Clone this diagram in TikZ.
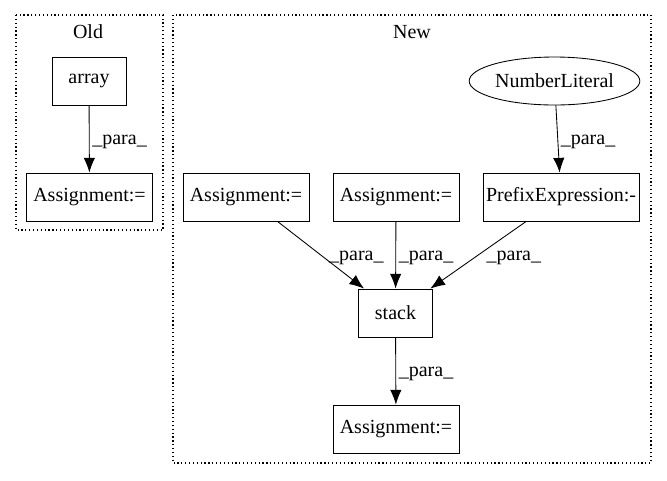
\documentclass[tikz,border=0pt]{standalone}
\usepackage{fontspec}
\setmainfont{Liberation Serif}
\usetikzlibrary{arrows.meta,shapes.geometric}
\tikzset{
  box/.style={draw, line width=.65pt, minimum height=36pt, inner sep=0pt, font=\fontsize{15}{18}\selectfont},
  oval/.style={draw, ellipse, line width=.65pt, minimum width=128pt, minimum height=36pt, inner sep=0pt, font=\fontsize{15}{18}\selectfont},
  cluster/.style={draw, dotted, line width=.9pt},
  lbl/.style={right, inner sep=2pt, font=\fontsize{15}{18}\selectfont}
}
\begin{document}
\begin{tikzpicture}[>={Latex[length=11pt,width=8.5pt]}, x=.75pt, y=-.75pt, line width=.65pt]
\useasboundingbox (0,0) rectangle (667,480);
% clusters
\draw[cluster] (16,15) rectangle (163,230);
\node[font=\fontsize{15}{18}\selectfont] (old) at (88,32){Old};
\draw[cluster] (173,15) rectangle (651,463);
\node[font=\fontsize{15}{18}\selectfont] (new) at (412,32){New};
% old
\node[box, minimum width=55.5pt] (array) at (89,81){array};
\node[box, minimum width=94.5pt] (asgOld) at (89.5,197){Assignment:=};
\draw[->] (array)--(asgOld) node[lbl, midway, yshift=-2pt]{\_para\_};
% new
\node[oval] (num) at (554.5,81){NumberLiteral};
\node[box, minimum width=117pt] (prefix) at (561,197){PrefixExpression:-};
\node[box, minimum width=94.5pt] (asgA) at (246,197){Assignment:=};
\node[box, minimum width=94.5pt] (asgB) at (396,197){Assignment:=};
\node[box, minimum width=55pt] (stack) at (395.5,313){stack};
\node[box, minimum width=94.5pt] (asgC) at (396,429){Assignment:=};
\draw[->] (num)--(prefix) node[lbl, midway, yshift=-2pt]{\_para\_};
\draw[->] (asgA)--(stack) node[lbl, midway, xshift=4pt, yshift=-2pt]{\_para\_};
\draw[->] (asgB)--(stack) node[lbl, midway, yshift=-2pt]{\_para\_};
\draw[->] (prefix)--(stack) node[lbl, midway, xshift=4pt, yshift=-2pt]{\_para\_};
\draw[->] (stack)--(asgC) node[lbl, midway, yshift=-2pt]{\_para\_};
\end{tikzpicture}
\end{document}
